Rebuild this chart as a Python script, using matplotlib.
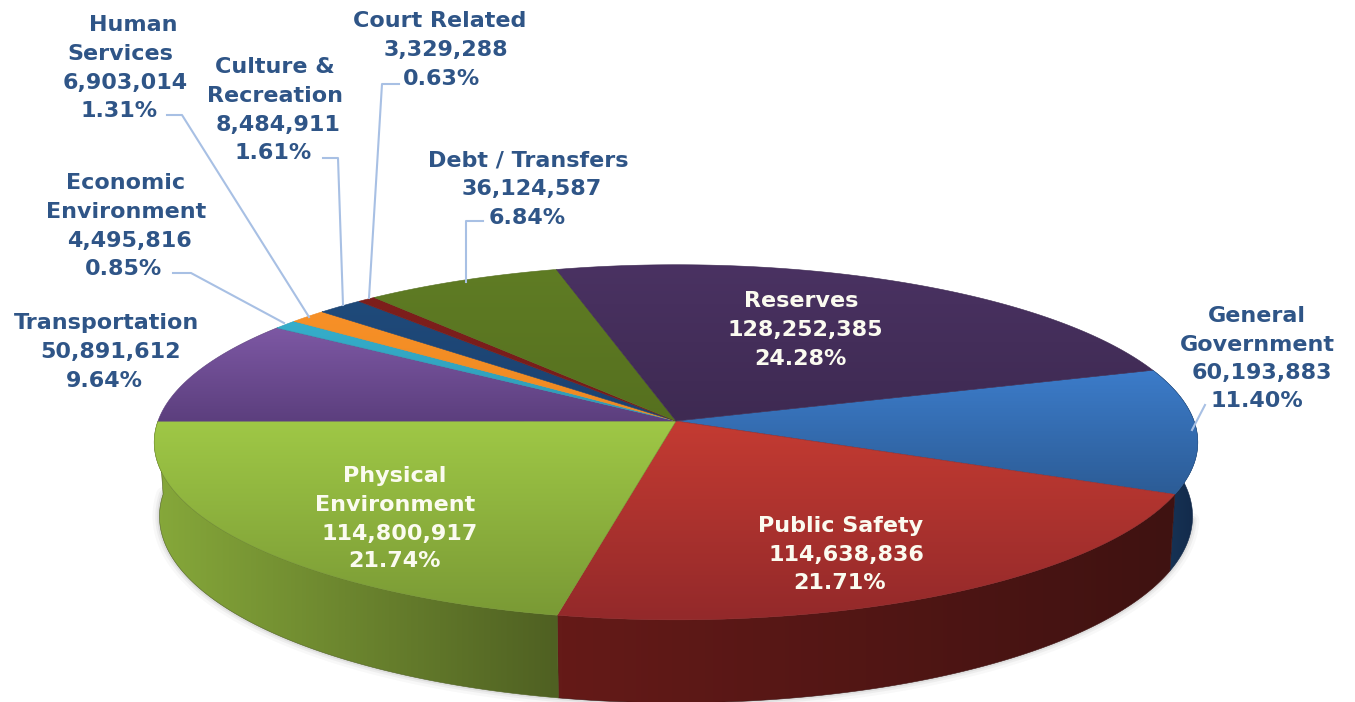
"""3D style budget pie: slices come from the values, perspective is done by hand."""
import numpy as np
import matplotlib
matplotlib.use("Agg")
import matplotlib.pyplot as plt
from matplotlib.colors import LinearSegmentedColormap
from matplotlib.patches import PathPatch
from matplotlib.path import Path

# clockwise from the General Government slice
categories = ["General\nGovernment", "Public Safety", "Physical\nEnvironment", "Transportation",
              "Economic\nEnvironment", "Human\nServices", "Culture &\nRecreation", "Court Related",
              "Debt / Transfers", "Reserves"]
amounts = [60193883, 114638836, 114800917, 50891612, 4495816,
           6903014, 8484911, 3329288, 36124587, 128252385]
percents = ["11.40%", "21.71%", "21.74%", "9.64%", "0.85%",
            "1.31%", "1.61%", "0.63%", "6.84%", "24.28%"]

top_colors = [("#3c7cca", "#2c5c96"), ("#c43b32", "#93292a"), ("#9fc846", "#7a9a35"),
              ("#7d58a4", "#5c3f7e"), ("#35aecb", "#2f9ab5"), ("#f79027", "#ee8a22"),
              ("#1f4a7a", "#1b4170"), ("#7e1f1c", "#751c1a"), ("#5f7c24", "#56701f"),
              ("#4a3262", "#3e2a52")]
side_colors = [("#1a3a5c", "#12294a"), ("#651a18", "#3f1211"), ("#86a83a", "#4f6022")]

# centre of each text line, per slice
label_pos = [[(1257, 316), (1257, 345), (1262, 373), (1257, 401)],
             [(841, 526), (846, 555), (840, 583)],
             [(395, 476), (395, 505), (400, 534), (395, 561)],
             [(106, 323), (111, 352), (104, 381)],
             [(126, 183), (126, 212), (129, 241), (124, 269)],
             [(133, 25), (120, 54), (125, 83), (119, 111)],
             [(275, 67), (275, 96), (278, 125), (273, 153)],
             [(440, 21), (446, 50), (441, 79)],
             [(528, 160), (532, 189), (527, 218)],
             [(801, 301), (805, 330), (800, 359)]]
white_labels = [1, 2, 9]

leaders = [[(1205, 405), (1192, 430)],
           [(173, 273), (191, 273), (284, 323)],
           [(167, 115), (182, 115), (309, 317)],
           [(323, 158), (338, 158), (343, 305)],
           [(399, 84), (382, 84), (369, 298)],
           [(483, 221), (466, 221), (466, 282)]]

CX, CY = 676, 421
RX, RY = 518, 175
PERSP = 0.12
DEPTH = 73
START = 17.5


def project(deg, r=1.0):
    t = np.radians(deg)
    px, py = r * np.cos(t), r * np.sin(t)
    f = 1 / (1 + PERSP * py)
    return CX + RX * px * f, CY - RY * py * f, f


def fill_gradient(ax, verts, colors, vertical=True):
    verts = np.asarray(verts)
    x0, x1 = verts[:, 0].min(), verts[:, 0].max()
    y0, y1 = verts[:, 1].min(), verts[:, 1].max()
    cmap = LinearSegmentedColormap.from_list("g", colors)
    ramp = np.linspace(0, 1, 128)
    ramp = ramp[:, None] if vertical else ramp[None, :]
    im = ax.imshow(ramp, cmap=cmap, vmin=0, vmax=1, extent=(x0, x1, y1, y0),
                   origin="upper", aspect="auto", interpolation="bilinear", zorder=2)
    outline = Path(np.vstack([verts, verts[0]]), closed=True)
    im.set_clip_path(PathPatch(outline, transform=ax.transData))
    ax.add_patch(PathPatch(outline, fc="none", ec=colors[1], lw=0.4, zorder=2))


fig = plt.figure(figsize=(13.55, 7.02), dpi=100)
ax = fig.add_axes([0, 0, 1, 1])

fractions = np.array(amounts) / sum(amounts)
edges = START - 360 * np.concatenate([[0], np.cumsum(fractions)])

# soft shadow along the lower edge
ang = np.linspace(-180, -8, 300)
sx, sy, sf = project(ang)
for w, a in [(10, 0.03), (6, 0.05), (3, 0.08)]:
    ax.plot(CX + (sx - CX) * 0.99, sy + DEPTH * sf, color="#303030", lw=w, alpha=a,
            solid_capstyle="round", zorder=1)

# only the three front slices show a wall
for i in range(len(side_colors)):
    ang = np.linspace(edges[i], edges[i + 1], 120)
    x, y, f = project(ang)
    bx = CX + (x - CX) * 0.99
    verts = np.vstack([np.column_stack([x, y]),
                       np.column_stack([bx, y + DEPTH * f])[::-1]])
    fill_gradient(ax, verts, side_colors[i], vertical=False)

for i in range(len(amounts)):
    ang = np.linspace(edges[i], edges[i + 1], 120)
    x, y, f = project(ang)
    verts = np.vstack([[CX, CY], np.column_stack([x, y])])
    fill_gradient(ax, verts, top_colors[i], vertical=True)

for pts in leaders:
    xs, ys = zip(*pts)
    ax.plot(xs, ys, color="#a8c0e4", lw=1.5, zorder=3)

for i, name in enumerate(categories):
    lines = name.split("\n") + [f"{amounts[i]:,}", percents[i]]
    col = "#fbfbf0" if i in white_labels else "#2f5587"
    for line, (lx, ly) in zip(lines, label_pos[i]):
        ax.text(lx, ly, line, ha="center", va="center", fontsize=16,
                family="DejaVu Sans", fontweight="bold", color=col, zorder=4)

ax.set_xlim(0, 1355)
ax.set_ylim(702, 0)
ax.axis("off")
fig.savefig("out.png", dpi=100)
